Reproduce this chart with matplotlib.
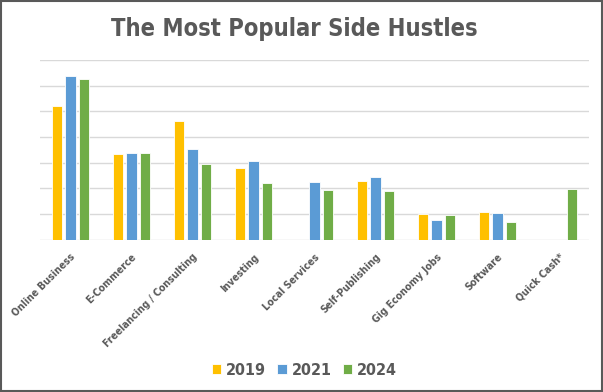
import matplotlib
matplotlib.use("Agg")
import matplotlib.pyplot as plt
import numpy as np
from matplotlib.patches import Rectangle

categories = ["Online Business", "E-Commerce", "Freelancing / Consulting", "Investing",
              "Local Services", "Self-Publishing", "Gig Economy Jobs", "Software",
              "Quick Cash*"]
years = ["2019", "2021", "2024"]
# values in percent (gridline every 5)
v2019 = [26.1, 16.7, 23.2, 14.0, np.nan, 11.5, 4.9, 5.4, np.nan]
v2021 = [31.8, 16.9, 17.6, 15.4, 11.3, 12.1, 3.8, 5.2, np.nan]
v2024 = [31.2, 16.9, 14.7, 11.1, 9.7, 9.5, 4.8, 3.5, 9.8]
colors = ["#FFC000", "#5B9BD5", "#70AD47"]

cond = ["Liberation Sans Narrow", "DejaVu Sans"]
gray = "#595959"

fig = plt.figure(figsize=(6.03, 3.92), dpi=100)
ax = fig.add_axes([40 / 603, 1 - 239.5 / 392, 549 / 603, (239.5 - 60) / 392])

x = np.arange(len(categories))
for i, (vals, c, lab) in enumerate(zip([v2019, v2021, v2024], colors, years)):
    ax.bar(x + (i - 1) * 0.22, vals, width=0.17, color=c, edgecolor="white",
           linewidth=0.6, label=lab, zorder=3)

ax.set_xlim(-0.5, len(categories) - 0.5)
ax.set_ylim(0, 35)
ax.set_yticks(np.arange(0, 36, 5))
ax.set_yticklabels([])
ax.tick_params(axis="y", length=0)
ax.grid(axis="y", color="#D9D9D9", linewidth=1, zorder=0)
for s in ax.spines.values():
    s.set_visible(False)

ax.set_xticks(x)
ax.set_xticklabels(categories, rotation=45, ha="right", rotation_mode="anchor",
                   family=cond, fontweight="bold", fontstretch="condensed",
                   fontsize=7.5, color=gray)
ax.tick_params(axis="x", length=0, pad=9)

fig.text(0.488, 0.925, "The Most Popular Side Hustles", ha="center", va="center",
         family=cond, fontweight="bold", fontstretch="condensed", fontsize=17,
         color=gray)

leg = fig.legend(loc="center", bbox_to_anchor=(0.505, 0.055), ncol=3, frameon=False,
                 handlelength=0.6, handleheight=0.6, handletextpad=0.3,
                 columnspacing=0.7,
                 prop={"family": cond, "weight": "bold", "stretch": "condensed",
                       "size": 11.5})
for t in leg.get_texts():
    t.set_color(gray)

fig.patches.append(Rectangle((0.002, 0.003), 0.996, 0.994, transform=fig.transFigure,
                             fill=False, edgecolor="#595959", linewidth=1.5))

fig.savefig("out.png", dpi=100)
